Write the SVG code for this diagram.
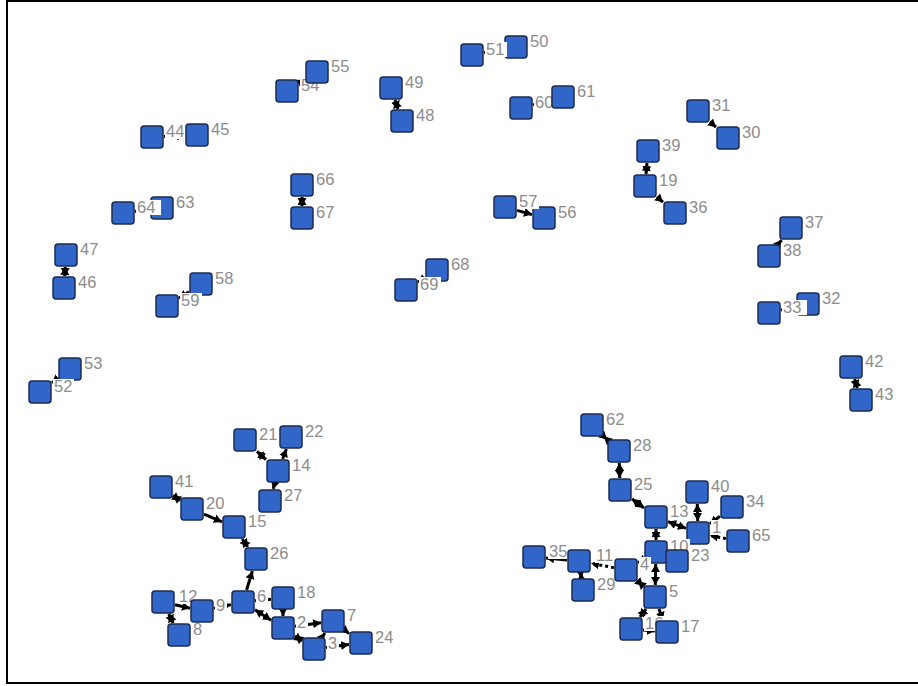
<svg xmlns="http://www.w3.org/2000/svg" width="918" height="686" viewBox="0 0 918 686">
<style>
.n rect.b{fill:#3265c8;stroke:#1b2b50;stroke-width:1.5}
.n rect.lb{fill:#fff}
.n text{font-family:"Liberation Sans",Arial,sans-serif;font-size:16.5px;fill:#8c8c8c}
.e line{stroke:#000;stroke-width:3;marker-end:url(#ah)}
.e line.d{stroke-dasharray:3 3}
.e line.bi{marker-start:url(#as)}
</style>
<defs>
<marker id="ah" markerUnits="userSpaceOnUse" markerWidth="9" markerHeight="9" refX="8" refY="4.5" orient="auto"><path d="M0,0 L8,4.5 L0,9 z" fill="#000"/></marker>
<marker id="as" markerUnits="userSpaceOnUse" markerWidth="9" markerHeight="9" refX="0" refY="4.5" orient="auto"><path d="M8,0 L0,4.5 L8,9 z" fill="#000"/></marker>
</defs>
<rect x="7" y="1" width="912" height="682" fill="#fff" stroke="#000" stroke-width="2"/>
<g id="connectors" class="e">
<line x1="164" y1="136.5" x2="185" y2="135.5"/>
<line x1="299" y1="83.4" x2="305" y2="79.6"/>
<line class="bi" x1="395" y1="100" x2="398" y2="109"/>
<line x1="484" y1="52.7" x2="504" y2="48.8"/>
<line x1="533" y1="104.9" x2="551" y2="100.1"/>
<line class="bi" x1="302" y1="197" x2="302" y2="206"/>
<line x1="135" y1="211.5" x2="150" y2="209.5"/>
<line x1="517" y1="210.4" x2="532" y2="214.6"/>
<line x1="710" y1="121.8" x2="716" y2="127.2"/>
<line class="bi" x1="647" y1="163" x2="646" y2="174"/>
<line x1="657" y1="196.8" x2="663" y2="202.2"/>
<line x1="778.4" y1="244" x2="781.6" y2="240"/>
<line x1="781" y1="310" x2="796" y2="306.4"/>
<line class="bi" x1="854.6" y1="379" x2="857.4" y2="388"/>
<line class="bi" x1="65.3" y1="267" x2="64.7" y2="276"/>
<line x1="189" y1="291.8" x2="179" y2="298.2"/>
<line x1="58" y1="378.2" x2="52" y2="382.8"/>
<line x1="425" y1="277.7" x2="418" y2="282.3"/>
<line class="bi" x1="257" y1="451.3" x2="266" y2="459.7"/>
<line x1="282.6" y1="459" x2="286.4" y2="449"/>
<line x1="274.8" y1="483" x2="273.2" y2="489"/>
<line class="bi" x1="173" y1="495.5" x2="180" y2="500.5"/>
<line x1="204" y1="514.1" x2="222" y2="521.9"/>
<line class="bi" x1="242.25" y1="539" x2="247.75" y2="547"/>
<line x1="246.6" y1="590" x2="252.4" y2="571"/>
<line x1="214" y1="608.4" x2="231" y2="604.6"/>
<line x1="175" y1="604.8" x2="190" y2="608.2"/>
<line class="bi" x1="168.8" y1="614" x2="173.2" y2="623"/>
<line class="bi" x1="255" y1="609.8" x2="271" y2="620.2"/>
<line x1="283" y1="610" x2="283" y2="616"/>
<line x1="255" y1="600.8" x2="271" y2="599.2"/>
<line x1="295" y1="626.3" x2="321" y2="622.7"/>
<line class="bi" x1="295" y1="636.1" x2="302" y2="640.9"/>
<line x1="326" y1="647.5" x2="349" y2="644.5"/>
<line x1="345" y1="630.4" x2="349" y2="633.6"/>
<line x1="322.1" y1="637" x2="324.9" y2="633"/>
<line class="bi" x1="604" y1="436.6" x2="607" y2="439.4"/>
<line class="bi" x1="619.3" y1="463" x2="619.7" y2="478"/>
<line class="bi" x1="632" y1="499" x2="644" y2="508"/>
<line class="bi" x1="656" y1="529" x2="656" y2="540"/>
<line class="bi" x1="668" y1="521.6" x2="686" y2="528.4"/>
<line class="bi" x1="697.3" y1="504" x2="697.7" y2="521"/>
<line x1="720" y1="516.2" x2="710" y2="523.8"/>
<line class="d" x1="726" y1="538.6" x2="710" y2="535.4"/>
<line class="bi" x1="655.7" y1="564" x2="655.3" y2="585"/>
<line class="d" x1="614" y1="567.7" x2="591" y2="563.3"/>
<line x1="567" y1="559.9" x2="546" y2="558.1"/>
<line class="bi" x1="580.7" y1="573" x2="581.3" y2="578"/>
<line class="bi" x1="638" y1="581.2" x2="643" y2="585.8"/>
<line x1="644" y1="559.2" x2="638" y2="562.8"/>
<line class="bi" x1="646" y1="609" x2="640" y2="617"/>
<line x1="643" y1="630" x2="655" y2="631"/>
<line x1="659" y1="609" x2="663" y2="620"/>
</g>
<g id="n63" class="n"><rect class="b" x="151" y="197" width="22" height="22" rx="3"/><rect class="lb" x="175" y="195" width="21" height="15"/><text x="176" y="208">63</text></g>
<g id="n64" class="n"><rect class="b" x="112" y="202" width="22" height="22" rx="3"/><rect class="lb" x="136" y="200" width="25" height="15"/><text x="137" y="213">64</text></g>
<g id="n44" class="n"><rect class="b" x="141" y="126" width="22" height="22" rx="3"/><rect class="lb" x="165" y="124" width="21" height="15"/><text x="166" y="137">44</text></g>
<g id="n45" class="n"><rect class="b" x="186" y="124" width="22" height="22" rx="3"/><rect class="lb" x="210" y="122" width="21" height="15"/><text x="211" y="135">45</text></g>
<g id="n54" class="n"><rect class="b" x="276" y="80" width="22" height="22" rx="3"/><rect class="lb" x="300" y="78" width="21" height="15"/><text x="301" y="91">54</text></g>
<g id="n55" class="n"><rect class="b" x="306" y="61" width="22" height="22" rx="3"/><rect class="lb" x="330" y="59" width="21" height="15"/><text x="331" y="72">55</text></g>
<g id="n49" class="n"><rect class="b" x="380" y="77" width="22" height="22" rx="3"/><rect class="lb" x="404" y="75" width="21" height="15"/><text x="405" y="88">49</text></g>
<g id="n48" class="n"><rect class="b" x="391" y="110" width="22" height="22" rx="3"/><rect class="lb" x="415" y="108" width="21" height="15"/><text x="416" y="121">48</text></g>
<g id="n50" class="n"><rect class="b" x="505" y="36" width="22" height="22" rx="3"/><rect class="lb" x="529" y="34" width="21" height="15"/><text x="530" y="47">50</text></g>
<g id="n51" class="n"><rect class="b" x="461" y="44" width="22" height="22" rx="3"/><rect class="lb" x="485" y="42" width="22" height="15"/><text x="486" y="55">51</text></g>
<g id="n60" class="n"><rect class="b" x="510" y="97" width="22" height="22" rx="3"/><rect class="lb" x="534" y="95" width="21" height="15"/><text x="535" y="108">60</text></g>
<g id="n61" class="n"><rect class="b" x="552" y="86" width="22" height="22" rx="3"/><rect class="lb" x="576" y="84" width="21" height="15"/><text x="577" y="97">61</text></g>
<g id="n66" class="n"><rect class="b" x="291" y="174" width="22" height="22" rx="3"/><rect class="lb" x="315" y="172" width="21" height="15"/><text x="316" y="185">66</text></g>
<g id="n67" class="n"><rect class="b" x="291" y="207" width="22" height="22" rx="3"/><rect class="lb" x="315" y="205" width="21" height="15"/><text x="316" y="218">67</text></g>
<g id="n56" class="n"><rect class="b" x="533" y="207" width="22" height="22" rx="3"/><rect class="lb" x="557" y="205" width="21" height="15"/><text x="558" y="218">56</text></g>
<g id="n57" class="n"><rect class="b" x="494" y="196" width="22" height="22" rx="3"/><rect class="lb" x="518" y="194" width="21" height="15"/><text x="519" y="207">57</text></g>
<g id="n31" class="n"><rect class="b" x="687" y="100" width="22" height="22" rx="3"/><rect class="lb" x="711" y="98" width="21" height="15"/><text x="712" y="111">31</text></g>
<g id="n30" class="n"><rect class="b" x="717" y="127" width="22" height="22" rx="3"/><rect class="lb" x="741" y="125" width="21" height="15"/><text x="742" y="138">30</text></g>
<g id="n39" class="n"><rect class="b" x="637" y="140" width="22" height="22" rx="3"/><rect class="lb" x="661" y="138" width="21" height="15"/><text x="662" y="151">39</text></g>
<g id="n19" class="n"><rect class="b" x="634" y="175" width="22" height="22" rx="3"/><rect class="lb" x="658" y="173" width="21" height="15"/><text x="659" y="186">19</text></g>
<g id="n36" class="n"><rect class="b" x="664" y="202" width="22" height="22" rx="3"/><rect class="lb" x="688" y="200" width="21" height="15"/><text x="689" y="213">36</text></g>
<g id="n37" class="n"><rect class="b" x="780" y="217" width="22" height="22" rx="3"/><rect class="lb" x="804" y="215" width="21" height="15"/><text x="805" y="228">37</text></g>
<g id="n38" class="n"><rect class="b" x="758" y="245" width="22" height="22" rx="3"/><rect class="lb" x="782" y="243" width="21" height="15"/><text x="783" y="256">38</text></g>
<g id="n32" class="n"><rect class="b" x="797" y="293" width="22" height="22" rx="3"/><rect class="lb" x="821" y="291" width="21" height="15"/><text x="822" y="304">32</text></g>
<g id="n33" class="n"><rect class="b" x="758" y="302" width="22" height="22" rx="3"/><rect class="lb" x="782" y="300" width="25" height="15"/><text x="783" y="313">33</text></g>
<g id="n42" class="n"><rect class="b" x="840" y="356" width="22" height="22" rx="3"/><rect class="lb" x="864" y="354" width="21" height="15"/><text x="865" y="367">42</text></g>
<g id="n43" class="n"><rect class="b" x="850" y="389" width="22" height="22" rx="3"/><rect class="lb" x="874" y="387" width="21" height="15"/><text x="875" y="400">43</text></g>
<g id="n47" class="n"><rect class="b" x="55" y="244" width="22" height="22" rx="3"/><rect class="lb" x="79" y="242" width="21" height="15"/><text x="80" y="255">47</text></g>
<g id="n46" class="n"><rect class="b" x="53" y="277" width="22" height="22" rx="3"/><rect class="lb" x="77" y="275" width="21" height="15"/><text x="78" y="288">46</text></g>
<g id="n58" class="n"><rect class="b" x="190" y="273" width="22" height="22" rx="3"/><rect class="lb" x="214" y="271" width="21" height="15"/><text x="215" y="284">58</text></g>
<g id="n59" class="n"><rect class="b" x="156" y="295" width="22" height="22" rx="3"/><rect class="lb" x="180" y="293" width="22" height="15"/><text x="181" y="306">59</text></g>
<g id="n53" class="n"><rect class="b" x="59" y="358" width="22" height="22" rx="3"/><rect class="lb" x="83" y="356" width="21" height="15"/><text x="84" y="369">53</text></g>
<g id="n52" class="n"><rect class="b" x="29" y="381" width="22" height="22" rx="3"/><rect class="lb" x="53" y="379" width="21" height="15"/><text x="54" y="392">52</text></g>
<g id="n68" class="n"><rect class="b" x="426" y="259" width="22" height="22" rx="3"/><rect class="lb" x="450" y="257" width="21" height="15"/><text x="451" y="270">68</text></g>
<g id="n69" class="n"><rect class="b" x="395" y="279" width="22" height="22" rx="3"/><rect class="lb" x="419" y="277" width="22" height="15"/><text x="420" y="290">69</text></g>
<g id="n21" class="n"><rect class="b" x="234" y="429" width="22" height="22" rx="3"/><rect class="lb" x="258" y="427" width="21" height="15"/><text x="259" y="440">21</text></g>
<g id="n22" class="n"><rect class="b" x="280" y="426" width="22" height="22" rx="3"/><rect class="lb" x="304" y="424" width="21" height="15"/><text x="305" y="437">22</text></g>
<g id="n14" class="n"><rect class="b" x="267" y="460" width="22" height="22" rx="3"/><rect class="lb" x="291" y="458" width="21" height="15"/><text x="292" y="471">14</text></g>
<g id="n27" class="n"><rect class="b" x="259" y="490" width="22" height="22" rx="3"/><rect class="lb" x="283" y="488" width="21" height="15"/><text x="284" y="501">27</text></g>
<g id="n41" class="n"><rect class="b" x="150" y="476" width="22" height="22" rx="3"/><rect class="lb" x="174" y="474" width="21" height="15"/><text x="175" y="487">41</text></g>
<g id="n20" class="n"><rect class="b" x="181" y="498" width="22" height="22" rx="3"/><rect class="lb" x="205" y="496" width="21" height="15"/><text x="206" y="509">20</text></g>
<g id="n15" class="n"><rect class="b" x="223" y="516" width="22" height="22" rx="3"/><rect class="lb" x="247" y="514" width="21" height="15"/><text x="248" y="527">15</text></g>
<g id="n26" class="n"><rect class="b" x="245" y="548" width="22" height="22" rx="3"/><rect class="lb" x="269" y="546" width="21" height="15"/><text x="270" y="559">26</text></g>
<g id="n6" class="n"><rect class="b" x="232" y="591" width="22" height="22" rx="3"/><rect class="lb" x="256" y="589" width="12" height="15"/><text x="257" y="602">6</text></g>
<g id="n18" class="n"><rect class="b" x="272" y="587" width="22" height="22" rx="3"/><rect class="lb" x="296" y="585" width="21" height="15"/><text x="297" y="598">18</text></g>
<g id="n12" class="n"><rect class="b" x="152" y="591" width="22" height="22" rx="3"/><rect class="lb" x="178" y="589" width="21" height="15"/><text x="179" y="602">12</text></g>
<g id="n8" class="n"><rect class="b" x="168" y="624" width="22" height="22" rx="3"/><rect class="lb" x="192" y="622" width="12" height="15"/><text x="193" y="635">8</text></g>
<g id="n9" class="n"><rect class="b" x="191" y="600" width="22" height="22" rx="3"/><rect class="lb" x="215" y="598" width="12" height="15"/><text x="216" y="611">9</text></g>
<g id="n2" class="n"><rect class="b" x="272" y="617" width="22" height="22" rx="3"/><rect class="lb" x="296" y="615" width="12" height="15"/><text x="297" y="628">2</text></g>
<g id="n7" class="n"><rect class="b" x="322" y="610" width="22" height="22" rx="3"/><rect class="lb" x="346" y="608" width="12" height="15"/><text x="347" y="621">7</text></g>
<g id="n3" class="n"><rect class="b" x="303" y="638" width="22" height="22" rx="3"/><rect class="lb" x="327" y="636" width="12" height="15"/><text x="328" y="649">3</text></g>
<g id="n24" class="n"><rect class="b" x="350" y="632" width="22" height="22" rx="3"/><rect class="lb" x="374" y="630" width="21" height="15"/><text x="375" y="643">24</text></g>
<g id="n62" class="n"><rect class="b" x="581" y="414" width="22" height="22" rx="3"/><rect class="lb" x="605" y="412" width="21" height="15"/><text x="606" y="425">62</text></g>
<g id="n28" class="n"><rect class="b" x="608" y="440" width="22" height="22" rx="3"/><rect class="lb" x="632" y="438" width="21" height="15"/><text x="633" y="451">28</text></g>
<g id="n25" class="n"><rect class="b" x="609" y="479" width="22" height="22" rx="3"/><rect class="lb" x="633" y="477" width="21" height="15"/><text x="634" y="490">25</text></g>
<g id="n40" class="n"><rect class="b" x="686" y="481" width="22" height="22" rx="3"/><rect class="lb" x="710" y="479" width="21" height="15"/><text x="711" y="492">40</text></g>
<g id="n34" class="n"><rect class="b" x="721" y="496" width="22" height="22" rx="3"/><rect class="lb" x="745" y="494" width="21" height="15"/><text x="746" y="507">34</text></g>
<g id="n13" class="n"><rect class="b" x="645" y="506" width="22" height="22" rx="3"/><rect class="lb" x="669" y="504" width="21" height="15"/><text x="670" y="517">13</text></g>
<g id="n1" class="n"><rect class="b" x="687" y="522" width="22" height="22" rx="3"/><rect class="lb" x="711" y="520" width="10" height="15"/><text x="712" y="533">1</text></g>
<g id="n65" class="n"><rect class="b" x="727" y="530" width="22" height="22" rx="3"/><rect class="lb" x="751" y="528" width="21" height="15"/><text x="752" y="541">65</text></g>
<g id="n10" class="n"><rect class="b" x="645" y="541" width="22" height="22" rx="3"/><rect class="lb" x="669" y="539" width="21" height="15"/><text x="670" y="552">10</text></g>
<g id="n23" class="n"><rect class="b" x="666" y="550" width="22" height="22" rx="3"/><rect class="lb" x="690" y="548" width="21" height="15"/><text x="691" y="561">23</text></g>
<g id="n35" class="n"><rect class="b" x="523" y="546" width="22" height="22" rx="3"/><rect class="lb" x="548" y="544" width="21" height="15"/><text x="549" y="557">35</text></g>
<g id="n11" class="n"><rect class="b" x="568" y="550" width="22" height="22" rx="3"/><rect class="lb" x="595" y="548" width="21" height="15"/><text x="596" y="561">11</text></g>
<g id="n29" class="n"><rect class="b" x="572" y="579" width="22" height="22" rx="3"/><rect class="lb" x="596" y="577" width="21" height="15"/><text x="597" y="590">29</text></g>
<g id="n4" class="n"><rect class="b" x="615" y="559" width="22" height="22" rx="3"/><rect class="lb" x="639" y="557" width="12" height="15"/><text x="640" y="570">4</text></g>
<g id="n5" class="n"><rect class="b" x="644" y="586" width="22" height="22" rx="3"/><rect class="lb" x="668" y="584" width="12" height="15"/><text x="669" y="597">5</text></g>
<g id="n16" class="n"><rect class="b" x="620" y="618" width="22" height="22" rx="3"/><rect class="lb" x="644" y="616" width="21" height="15"/><text x="645" y="629">16</text></g>
<g id="n17" class="n"><rect class="b" x="656" y="621" width="22" height="22" rx="3"/><rect class="lb" x="680" y="619" width="21" height="15"/><text x="681" y="632">17</text></g>
</svg>
